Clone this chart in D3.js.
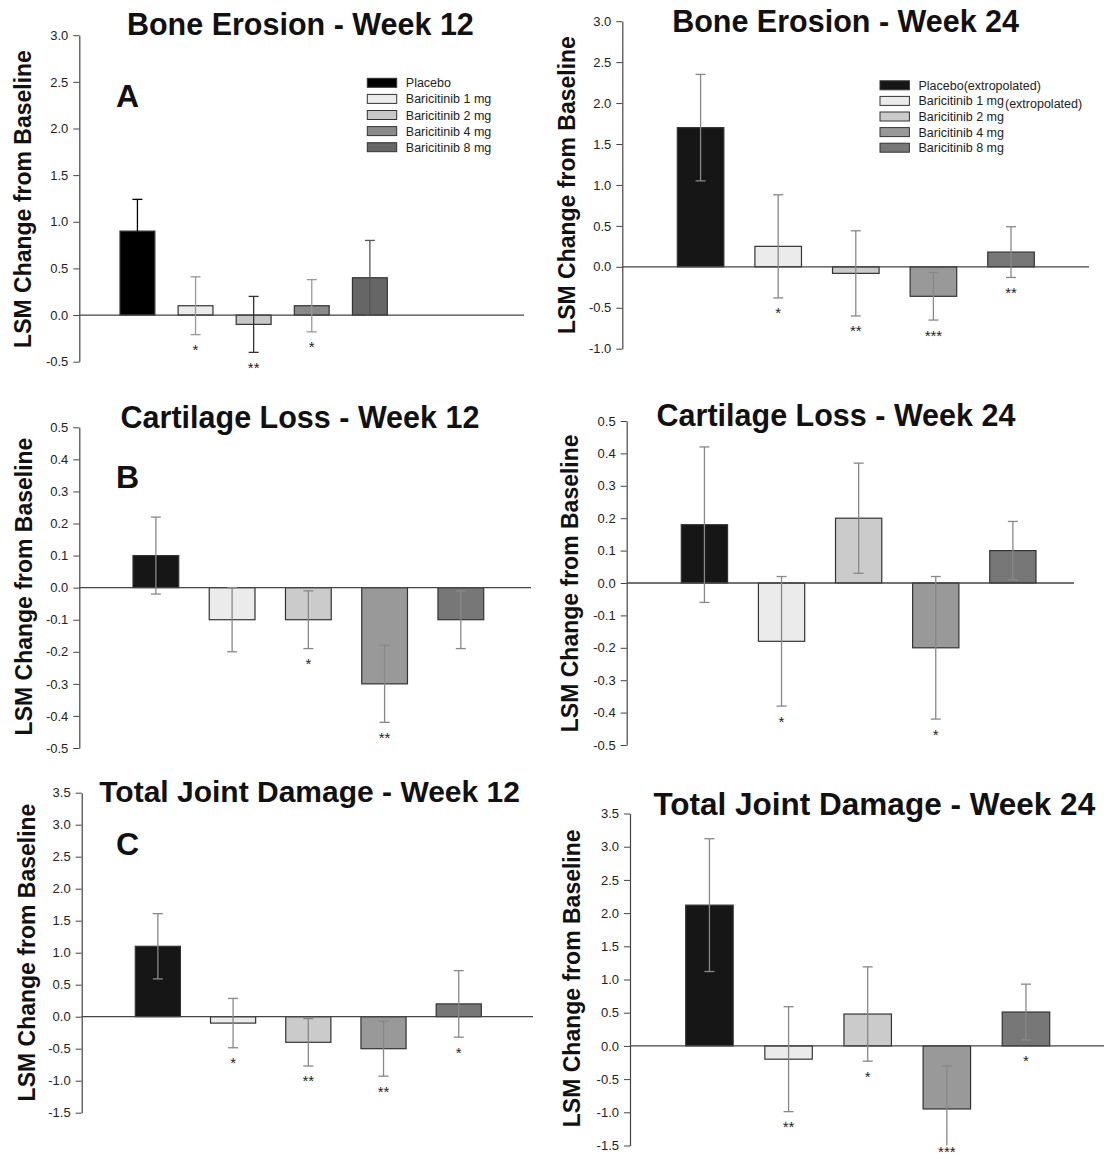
<!DOCTYPE html>
<html>
<head>
<meta charset="utf-8">
<script src="https://cdn.jsdelivr.net/npm/d3@7"></script>
<style>
  body { margin: 0; background: #fff; }
  text { font-family: "Liberation Sans", Arial, sans-serif; }
</style>
</head>
<body>
<svg id="fig" width="1104" height="1160"></svg>
<script>
// treatment groups (same order in every panel)
var groups = ["Placebo", "Baricitinib 1 mg", "Baricitinib 2 mg", "Baricitinib 4 mg", "Baricitinib 8 mg"];

// LSM change from baseline, error half-width, significance marks
var boneWk12 = [0.9, 0.1, -0.1, 0.1, 0.4];
var boneWk12Err = [0.34, 0.31, 0.3, 0.28, 0.4];
var boneWk12Sig = ["", "*", "**", "*", ""];

var boneWk24 = [1.7, 0.25, -0.08, -0.36, 0.18];
var boneWk24Err = [0.65, 0.63, 0.52, 0.29, 0.31];
var boneWk24Sig = ["", "*", "**", "***", "**"];

var cartWk12 = [0.1, -0.1, -0.1, -0.3, -0.1];
var cartWk12Err = [0.12, 0.1, 0.09, 0.12, 0.09];
var cartWk12Sig = ["", "", "*", "**", ""];

var cartWk24 = [0.18, -0.18, 0.2, -0.2, 0.1];
var cartWk24Err = [0.24, 0.2, 0.17, 0.22, 0.09];
var cartWk24Sig = ["", "*", "", "*", ""];

var totalWk12 = [1.1, -0.1, -0.4, -0.5, 0.2];
var totalWk12Err = [0.51, 0.385, 0.37, 0.43, 0.52];
var totalWk12Sig = ["", "*", "**", "**", "*"];

var totalWk24 = [2.12, -0.2, 0.48, -0.95, 0.51];
var totalWk24Err = [1.0, 0.79, 0.71, 0.65, 0.42];
var totalWk24Sig = ["", "**", "*", "***", "*"];

// tick labels
var ticksBone12 = [-0.5, 0, 0.5, 1.0, 1.5, 2.0, 2.5, 3.0];
var ticksBone24 = [-1.0, -0.5, 0, 0.5, 1.0, 1.5, 2.0, 2.5, 3.0];
var ticksCart = [-0.5, -0.4, -0.3, -0.2, -0.1, 0, 0.1, 0.2, 0.3, 0.4, 0.5];
var ticksTotal = [-1.5, -1.0, -0.5, 0, 0.5, 1.0, 1.5, 2.0, 2.5, 3.0, 3.5];

var legend12 = ["Placebo", "Baricitinib 1 mg", "Baricitinib 2 mg", "Baricitinib 4 mg", "Baricitinib 8 mg"];
var legend24 = ["Placebo(extropolated)", "Baricitinib 1 mg", "Baricitinib 2 mg", "Baricitinib 4 mg", "Baricitinib 8 mg"];
var legend24Note = "(extropolated)";

var fillsA = ["#000000", "#ebebeb", "#c8c8c8", "#8a8a8a", "#666666"];
var fills = ["#161616", "#ebebeb", "#cbcbcb", "#999999", "#777777"];
var errA = ["#000000", "#999999", "#333333", "#999999", "#555555"];
var errGray = ["#888888", "#888888", "#888888", "#888888", "#888888"];

var panels = [
  {title: "Bone Erosion - Week 12", vals: boneWk12, err: boneWk12Err, sig: boneWk12Sig, ticks: ticksBone12,
   ax: 79.3, xr: [120, 387.3], xend: 524, yr: [361.7, 35.2], tx: 300.4, ty: 35, ts: 30.5,
   lx: 31, ly: 199, letter: "A", letY: 106.7, fills: fillsA, errc: errA,
   legend: {x: 367.3, y: 82.8, dy: 16.1, labels: legend12}},
  {title: "Bone Erosion - Week 24", vals: boneWk24, err: boneWk24Err, sig: boneWk24Sig, ticks: ticksBone24,
   ax: 622.3, xr: [677.3, 1034.3], xend: 1089, yr: [348.7, 21.2], tx: 845.6, ty: 32.3, ts: 30.5,
   lx: 575, ly: 185, fills: fills, errc: errGray,
   legend: {x: 880, y: 85.3, dy: 15.6, labels: legend24, note: legend24Note}},
  {title: "Cartilage Loss - Week 12", vals: cartWk12, err: cartWk12Err, sig: cartWk12Sig, ticks: ticksCart,
   ax: 79.3, xr: [133, 483.7], xend: 531, yr: [748, 427.3], tx: 300, ty: 427.7, ts: 30.5,
   lx: 31.6, ly: 586.5, letter: "B", letY: 488.3, fills: fills, errc: errGray},
  {title: "Cartilage Loss - Week 24", vals: cartWk24, err: cartWk24Err, sig: cartWk24Sig, ticks: ticksCart,
   ax: 626.7, xr: [681.3, 1036], xend: 1074, yr: [745, 421], tx: 836, ty: 425.7, ts: 30.5,
   lx: 578, ly: 583.3, fills: fills, errc: errGray},
  {title: "Total Joint Damage - Week 12", vals: totalWk12, err: totalWk12Err, sig: totalWk12Sig, ticks: ticksTotal,
   ax: 81.7, xr: [135.3, 481.3], xend: 533, yr: [1112.7, 792.7], tx: 309.6, ty: 801.7, ts: 30,
   lx: 35, ly: 952.5, letter: "C", letY: 855, fills: fills, errc: errGray},
  {title: "Total Joint Damage - Week 24", vals: totalWk24, err: totalWk24Err, sig: totalWk24Sig, ticks: ticksTotal,
   ax: 630, xr: [685.7, 1049.7], xend: 1104, yr: [1145.5, 813.5], tx: 874.3, ty: 815, ts: 31.5,
   lx: 580, ly: 978.3, fills: fills, errc: errGray}
];

var svg = d3.select("#fig");

panels.forEach(function(p) {
  var g = svg.append("g");
  var dmin = p.ticks[0], dmax = p.ticks[p.ticks.length - 1];

  var y = d3.scaleLinear().domain([dmin, dmax]).range(p.yr);
  var x = d3.scaleBand().domain(groups).range(p.xr).paddingInner(0.4).paddingOuter(0);

  // y axis
  var yAxis = g.append("g")
      .attr("transform", "translate(" + p.ax + ",0)")
      .call(d3.axisLeft(y).tickValues(p.ticks)
        .tickFormat(function(d) { return d.toFixed(1); })
        .tickSize(6).tickSizeOuter(0).tickPadding(5));
  yAxis.select(".domain").attr("stroke", "#444").attr("stroke-width", 1.2);
  yAxis.selectAll(".tick line").attr("stroke", "#444");
  yAxis.selectAll(".tick text").attr("font-size", 13).attr("fill", "#222")
      .style("font-family", "'Liberation Sans', Arial, sans-serif");

  // bars
  g.selectAll("rect.bar").data(p.vals).enter().append("rect")
      .attr("class", "bar")
      .attr("x", function(d, i) { return x(groups[i]); })
      .attr("width", x.bandwidth())
      .attr("y", function(d) { return Math.min(y(d), y(0)); })
      .attr("height", function(d) { return Math.abs(y(d) - y(0)); })
      .attr("fill", function(d, i) { return p.fills[i]; })
      .attr("stroke", "#333")
      .attr("stroke-width", 1.2);

  // zero line
  g.append("line")
      .attr("x1", p.ax).attr("x2", p.xend)
      .attr("y1", y(0)).attr("y2", y(0))
      .attr("stroke", "#444").attr("stroke-width", 1.3);

  // error bars
  p.vals.forEach(function(v, i) {
    var cx = x(groups[i]) + x.bandwidth() / 2;
    var hi = v + p.err[i], lo = v - p.err[i];
    var loC = Math.max(lo, dmin);
    var col = p.errc[i];
    g.append("line").attr("x1", cx).attr("x2", cx)
        .attr("y1", y(hi)).attr("y2", y(loC))
        .attr("stroke", col).attr("stroke-width", 1.3);
    g.append("line").attr("x1", cx - 5).attr("x2", cx + 5)
        .attr("y1", y(hi)).attr("y2", y(hi))
        .attr("stroke", col).attr("stroke-width", 1.3);
    if (lo >= dmin) {
      g.append("line").attr("x1", cx - 5).attr("x2", cx + 5)
          .attr("y1", y(lo)).attr("y2", y(lo))
          .attr("stroke", col).attr("stroke-width", 1.3);
    }
    if (p.sig[i]) {
      // keep the mark inside the page when the bar runs off the axis
      var sy = Math.min(y(Math.max(Math.min(lo, 0), dmin)) + 20.5, 1156.5);
      g.append("text")
          .attr("x", cx)
          .attr("y", sy)
          .attr("text-anchor", "middle")
          .attr("font-size", 15)
          .attr("fill", "#222")
          .text(p.sig[i]);
    }
  });

  // title
  g.append("text")
      .attr("x", p.tx).attr("y", p.ty)
      .attr("text-anchor", "middle")
      .attr("font-size", p.ts)
      .attr("font-weight", "bold")
      .attr("fill", "#111")
      .text(p.title);

  // y label
  g.append("text")
      .attr("transform", "translate(" + p.lx + "," + p.ly + ") rotate(-90)")
      .attr("text-anchor", "middle")
      .attr("font-size", 23)
      .attr("font-weight", "bold")
      .attr("fill", "#111")
      .text("LSM Change from Baseline");

  // panel letter
  if (p.letter) {
    g.append("text")
        .attr("x", 116).attr("y", p.letY)
        .attr("font-size", 32)
        .attr("font-weight", "bold")
        .attr("fill", "#111")
        .text(p.letter);
  }

  // legend
  if (p.legend) {
    var L = p.legend;
    L.labels.forEach(function(lab, i) {
      var cy = L.y + i * L.dy;
      g.append("rect")
          .attr("x", L.x).attr("y", cy - 4.5)
          .attr("width", 29.4).attr("height", 9)
          .attr("fill", p.fills[i])
          .attr("stroke", "#333").attr("stroke-width", 1);
      g.append("text")
          .attr("x", L.x + 38.5).attr("y", cy + 4.5)
          .attr("font-size", 12.5)
          .attr("fill", "#222")
          .text(lab);
    });
    if (L.note) {
      g.append("text")
          .attr("x", 1005).attr("y", L.y + L.dy + 7.5)
          .attr("font-size", 12.5)
          .attr("fill", "#222")
          .text(L.note);
    }
  }
});
</script>
</body>
</html>
